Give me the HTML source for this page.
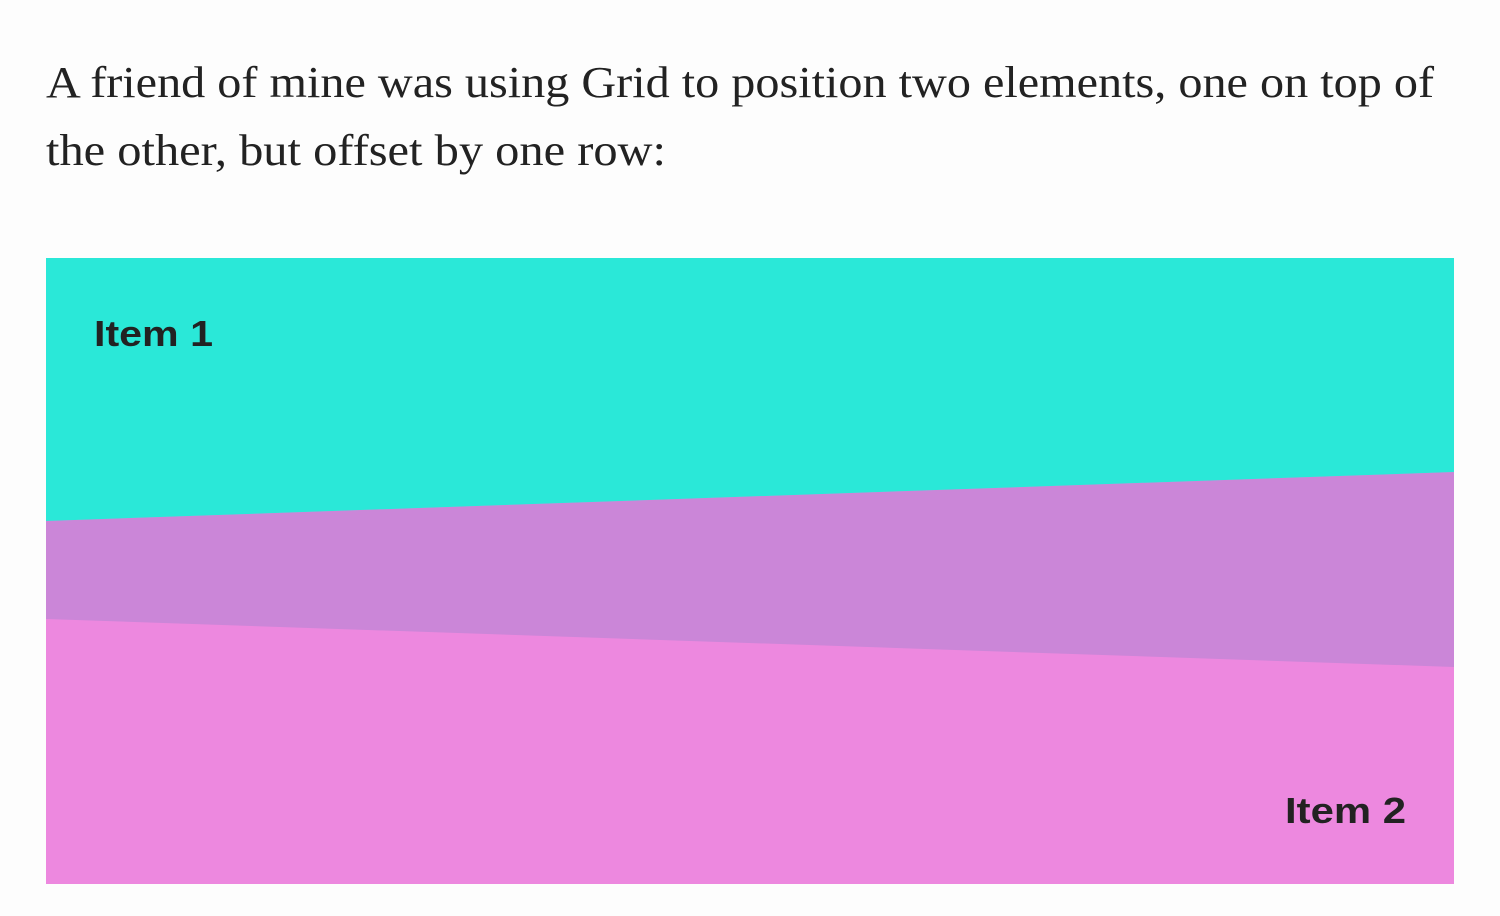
<!DOCTYPE html>
<html><head><meta charset="utf-8"><style>
html,body{margin:0;padding:0;background:#fdfdfd;width:1500px;height:916px;overflow:hidden}
svg{display:block}
</style></head><body>
<svg width="1500" height="916" viewBox="0 0 1500 916">
<text x="46" y="97" font-family="Liberation Serif, serif" font-size="44" fill="#222" textLength="1388" lengthAdjust="spacingAndGlyphs">A friend of mine was using Grid to position two elements, one on top of</text>
<text x="46" y="165" font-family="Liberation Serif, serif" font-size="44" fill="#222" textLength="620" lengthAdjust="spacingAndGlyphs">the other, but offset by one row:</text>
<g>
<rect x="46" y="258" width="1408" height="626" fill="#ed88df"/>
<polygon points="46,521 1454,472 1454,667 46,619" fill="#cb86d8"/>
<polygon points="46,258 1454,258 1454,472 46,521" fill="#2ae8d8"/>
<text x="94" y="346" font-family="Liberation Sans, sans-serif" font-weight="bold" font-size="36" fill="#222" textLength="119" lengthAdjust="spacingAndGlyphs">Item 1</text>
<text x="1285" y="823" font-family="Liberation Sans, sans-serif" font-weight="bold" font-size="36" fill="#222" textLength="121" lengthAdjust="spacingAndGlyphs">Item 2</text>
</g>
</svg>
</body></html>
